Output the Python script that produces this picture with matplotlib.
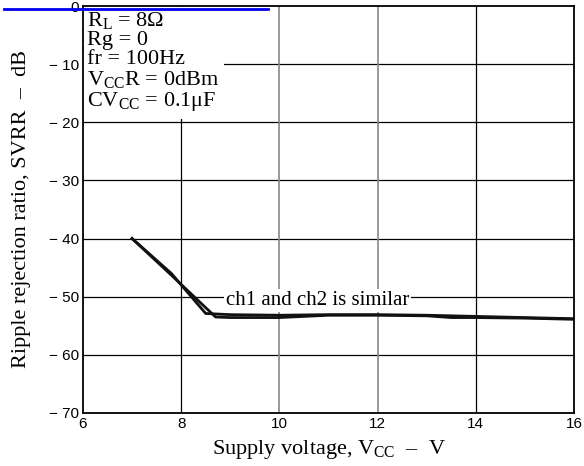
import numpy as np
import matplotlib.pyplot as plt
from matplotlib.lines import Line2D

plt.rcParams['mathtext.fontset'] = 'custom'
plt.rcParams['mathtext.rm'] = 'Liberation Serif'
plt.rcParams['mathtext.it'] = 'Liberation Serif:italic'

# data
v_ch1 = [7, 7.8, 8.5, 9, 10, 11, 12, 13, 14, 15, 16]
svrr_ch1 = [-40, -46, -52.9, -53.1, -53.2, -53.1, -53.1, -53.2, -53.4, -53.6, -53.8]
v_ch2 = [7, 7.8, 8.7, 9, 10, 10.5, 11, 12, 13, 13.5, 14, 15, 16]
svrr_ch2 = [-40, -46.3, -53.5, -53.6, -53.6, -53.4, -53.2, -53.2, -53.3, -53.6, -53.6, -53.7, -53.9]

xticks = [6, 8, 10, 12, 14, 16]
yticks = [0, -10, -20, -30, -40, -50, -60, -70]
ylabels = ['0', '\u2212 10', '\u2212 20', '\u2212 30', '\u2212 40', '\u2212 50', '\u2212 60', '\u2212 70']

fig = plt.figure(figsize=(5.84, 4.66), dpi=100)
ax = fig.add_axes([0.142, 0.114, 0.841, 0.873])

ax.set_xlim(6, 16)
ax.set_ylim(-70, 0)
ax.set_xticks(xticks)
ax.set_xticklabels([str(t) for t in xticks], fontfamily='Liberation Sans', fontsize=11)
ax.set_yticks(yticks)
ax.set_yticklabels(ylabels, fontfamily='Liberation Sans', fontsize=11)
ax.tick_params(length=0, pad=3)

# grid: horizontal black, verticals at 10/12 gray
for y in yticks[1:-1]:
    ax.axhline(y, color='black', lw=0.9, zorder=1)
for x in [8, 14]:
    ax.axvline(x, color='black', lw=0.9, zorder=1)
for x in [10, 12]:
    ax.axvline(x, color='#888888', lw=1.2, zorder=1)

for s in ax.spines.values():
    s.set_linewidth(1.3)
    s.set_zorder(5)

ax.plot(v_ch1, svrr_ch1, color='#111111', lw=2, zorder=3)
ax.plot(v_ch2, svrr_ch2, color='#111111', lw=2, zorder=3)

ax.text(10.78, -50.7, 'ch1 and ch2 is similar', fontfamily='Liberation Serif',
        fontsize=15, ha='center', va='center', zorder=4,
        bbox=dict(facecolor='white', edgecolor='none', pad=1.5))

cond = ('R$_\\mathrm{L}$ = 8\u03a9\n'
        'Rg = 0\n'
        'fr = 100Hz\n'
        'V$_\\mathrm{CC}$R = 0dBm\n'
        'CV$_\\mathrm{CC}$ = 0.1\u03bcF')
ax.text(0.008, 0.99, cond, transform=ax.transAxes, fontsize=16,
        fontfamily='Liberation Serif', ha='left', va='top', linespacing=1.0, zorder=4,
        bbox=dict(facecolor='white', edgecolor='none', pad=4))

ax.set_xlabel('Supply voltage, V$_\\mathrm{CC}$  \u2013  V', fontfamily='Liberation Serif',
              fontsize=16, labelpad=5)
ax.set_ylabel('Ripple rejection ratio, SVRR  \u2013  dB', fontfamily='Liberation Serif',
              fontsize=16, labelpad=13)

# blue underline at the top of the scan
fig.add_artist(Line2D([4/584, 268/584], [1-9/466, 1-9/466], color='#0000ee', lw=2))

plt.savefig('out.png', dpi=100)
